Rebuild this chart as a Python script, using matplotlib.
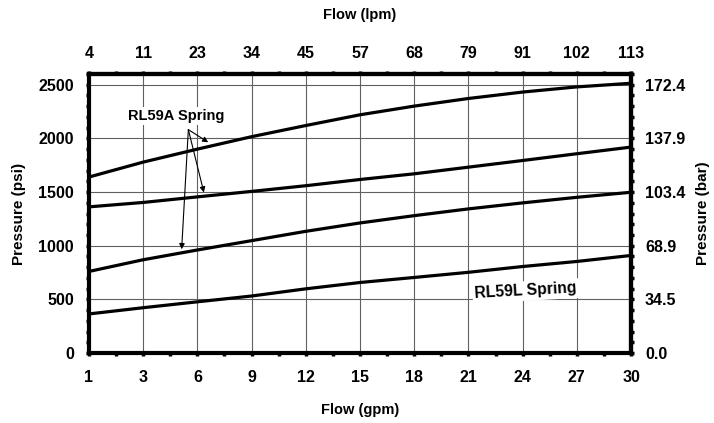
import matplotlib
matplotlib.use("Agg")
import matplotlib.pyplot as plt
from matplotlib.ticker import MultipleLocator, FixedLocator

plt.rcParams["font.family"] = ["Liberation Sans", "DejaVu Sans"]
plt.rcParams["font.weight"] = "bold"

# axis positions (evenly spaced) and their labels
flow_pos = [0, 3, 6, 9, 12, 15, 18, 21, 24, 27, 30]
gpm_labels = ["1", "3", "6", "9", "12", "15", "18", "21", "24", "27", "30"]
lpm_labels = ["4", "11", "23", "34", "45", "57", "68", "79", "91", "102", "113"]

psi_ticks = [0, 500, 1000, 1500, 2000, 2500]
bar_labels = ["0.0", "34.5", "68.9", "103.4", "137.9", "172.4"]
PSI_TO_BAR = 0.0689476

# pressure curves (psi)
rl59a_high = [1640, 1779, 1900, 2016, 2120, 2220, 2301, 2372, 2432, 2480, 2514]
rl59a_mid = [1362, 1403, 1455, 1506, 1559, 1617, 1670, 1732, 1794, 1857, 1919]
rl59a_low = [760, 869, 960, 1047, 1134, 1212, 1280, 1343, 1399, 1451, 1498]
rl59l = [364, 422, 477, 531, 598, 657, 704, 752, 806, 853, 909]

fig = plt.figure(figsize=(7.14, 4.23), dpi=100)
ax = fig.add_axes([0.1246, 0.1655, 0.7592, 0.6595])

for ys in (rl59a_high, rl59a_mid, rl59a_low, rl59l):
    ax.plot(flow_pos, ys, color="black", lw=2.3, solid_capstyle="butt", zorder=3)

ax.set_xlim(0, 30)
ax.set_ylim(0, 2600)
ax.set_xticks(flow_pos)
ax.set_xticklabels(gpm_labels)
ax.set_yticks(psi_ticks)
ax.xaxis.set_minor_locator(MultipleLocator(1.5))
ax.yaxis.set_minor_locator(MultipleLocator(100))
ax.grid(True, which="major", color="#606060", lw=0.8, zorder=1)

for sp in ax.spines.values():
    sp.set_linewidth(3)

tick_kw = dict(direction="out", width=2.5, length=2.5, color="black", labelsize=11.5)
ax.tick_params(axis="both", which="both", **tick_kw)
ax.tick_params(axis="y", which="major", pad=8.3)
ax.tick_params(axis="x", which="major", pad=9.4)

ax.set_xlabel("Flow (gpm)", fontsize=10.5, fontweight="bold", labelpad=13)
ax.set_ylabel("Pressure (psi)", fontsize=11, fontweight="bold", labelpad=9)

top = ax.secondary_xaxis("top")
top.set_xticks(flow_pos)
top.set_xticklabels(lpm_labels)
top.xaxis.set_minor_locator(MultipleLocator(1.5))
top.tick_params(which="both", **tick_kw)
top.tick_params(which="major", pad=7.2)
top.spines["top"].set_linewidth(3)
top.set_xlabel("Flow (lpm)", fontsize=10.5, fontweight="bold", labelpad=19)

right = ax.secondary_yaxis("right", functions=(lambda p: p * PSI_TO_BAR,
                                                lambda b: b / PSI_TO_BAR))
right.yaxis.set_major_locator(FixedLocator([p * PSI_TO_BAR for p in psi_ticks]))
right.set_yticklabels(bar_labels)
right.yaxis.set_minor_locator(MultipleLocator(100 * PSI_TO_BAR))
right.tick_params(which="both", **tick_kw)
right.tick_params(which="major", pad=7.5)
right.spines["right"].set_linewidth(3)
right.set_ylabel("Pressure (bar)", fontsize=11, fontweight="bold", labelpad=8)

# annotations
box = dict(boxstyle="square,pad=0.15", fc="white", ec="none")
ax.text(4.85, 2207, "RL59A Spring", ha="center", va="center",
        fontsize=10.5, fontweight="bold", bbox=box, zorder=4)
for tx, ty in [(6.6, 1964), (6.36, 1496), (5.13, 967)]:
    ax.annotate("", xy=(tx, ty), xytext=(5.5, 2082),
                arrowprops=dict(arrowstyle="-|>", lw=0.8, color="black",
                                mutation_scale=8, shrinkA=0, shrinkB=0),
                zorder=4)
ax.text(24.18, 578, "RL59L Spring", ha="center", va="center", rotation=3.2,
        fontsize=11.3, fontweight="bold", bbox=box, zorder=4)

fig.savefig("out.png", dpi=100)
